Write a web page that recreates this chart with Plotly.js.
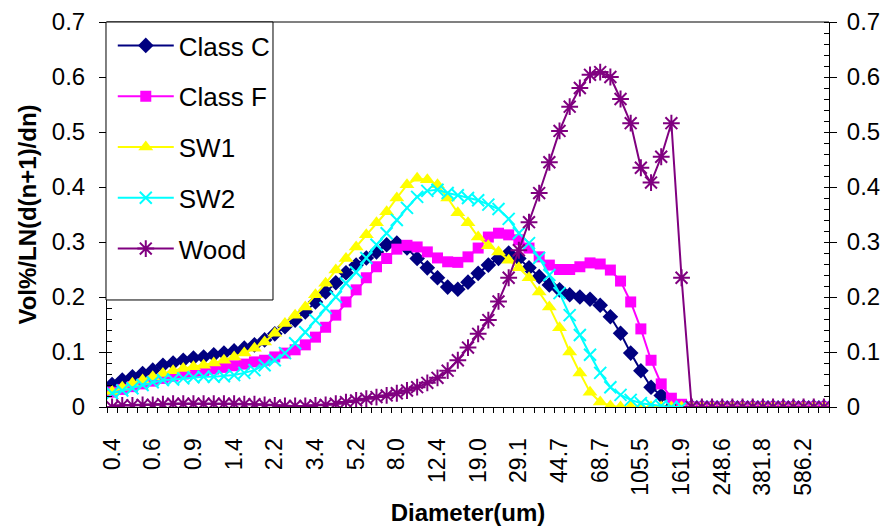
<!DOCTYPE html>
<html>
<head>
<meta charset="utf-8">
<script src="https://cdn.plot.ly/plotly-3.0.1.min.js"></script>
<style>
  html, body { margin: 0; padding: 0; background: #ffffff; }
  #chart { width: 885px; height: 529px; }
</style>
</head>
<body>
<div id="chart"></div>
<script>
// Particle size bins (um), one per category on the x axis
const diameters = [
  "0.4","0.4","0.5","0.6","0.6","0.7","0.8","0.8","0.9","1.0",
  "1.2","1.3","1.4","1.6","1.8","2.0","2.2","2.5","2.8","3.1",
  "3.4","3.8","4.2","4.7","5.2","5.8","6.5","7.2","8.0","9.0",
  "10.0","11.1","12.4","13.8","15.3","17.0","19.0","21.1","23.5","26.2",
  "29.1","32.4","36.1","40.2","44.7","49.8","55.4","61.7","68.7","76.5",
  "85.1","94.8","105.5","117.4","130.7","145.5","161.9","180.3","200.6","223.4",
  "248.6","276.8","308.1","343.0","381.8","425.0","473.1","526.6","586.2","652.5",
  "726.4"
];

// Vol%/LN(d(n+1)/dn) for each material
const classC = [
  0.041,0.049,0.055,0.061,0.067,0.076,0.080,0.085,0.089,0.091,
  0.095,0.098,0.102,0.107,0.113,0.122,0.133,0.146,0.158,0.173,
  0.191,0.209,0.226,0.244,0.258,0.271,0.282,0.295,0.298,0.289,
  0.270,0.253,0.235,0.218,0.214,0.227,0.243,0.258,0.270,0.280,
  0.270,0.253,0.237,0.222,0.213,0.204,0.200,0.196,0.185,0.164,
  0.134,0.098,0.066,0.036,0.021,0,0,0,0,0,
  0,0,0,0,0,0,0,0,0,0,
  0
];
const classF = [
  0.027,0.032,0.037,0.042,0.047,0.052,0.056,0.060,0.063,0.066,
  0.069,0.072,0.075,0.078,0.082,0.085,0.091,0.098,0.104,0.113,
  0.127,0.145,0.167,0.191,0.213,0.235,0.255,0.270,0.287,0.294,
  0.291,0.282,0.271,0.264,0.263,0.273,0.289,0.309,0.316,0.313,
  0.304,0.289,0.273,0.258,0.250,0.250,0.255,0.262,0.260,0.249,
  0.229,0.191,0.142,0.085,0.042,0.016,0.005,0,0,0,
  0,0,0,0,0,0,0,0,0,0,
  0
];
const sw1 = [
  0.028,0.036,0.043,0.049,0.055,0.061,0.066,0.070,0.073,0.076,
  0.080,0.085,0.091,0.098,0.107,0.118,0.134,0.152,0.167,0.182,
  0.204,0.225,0.249,0.270,0.291,0.313,0.335,0.355,0.380,0.404,
  0.416,0.413,0.404,0.380,0.353,0.335,0.309,0.293,0.282,0.267,
  0.253,0.235,0.209,0.182,0.144,0.100,0.062,0.027,0.009,0.002,
  0,0,0,0,0,0,0,0,0,0,
  0,0,0,0,0,0,0,0,0,0,
  0
];
const sw2 = [
  0.025,0.030,0.034,0.040,0.045,0.049,0.050,0.052,0.054,0.055,
  0.055,0.056,0.058,0.062,0.067,0.076,0.085,0.098,0.116,0.136,
  0.158,0.180,0.200,0.225,0.245,0.271,0.295,0.316,0.340,0.362,
  0.382,0.393,0.395,0.389,0.385,0.380,0.376,0.368,0.360,0.342,
  0.316,0.298,0.271,0.240,0.207,0.167,0.131,0.095,0.062,0.036,
  0.022,0.013,0.007,0.004,0.002,0,0,0,0,0,
  0,0,0,0,0,0,0,0,0,0,
  0
];
const wood = [
  0.000,0.003,0.003,0.004,0.004,0.005,0.006,0.006,0.006,0.006,
  0.006,0.006,0.006,0.005,0.005,0.004,0.003,0.002,0.002,0.002,
  0.003,0.004,0.006,0.009,0.012,0.015,0.018,0.021,0.025,0.030,
  0.036,0.044,0.053,0.066,0.085,0.108,0.133,0.158,0.192,0.235,
  0.285,0.336,0.389,0.445,0.502,0.546,0.580,0.604,0.609,0.600,
  0.560,0.516,0.435,0.408,0.455,0.516,0.235,0,0,0,
  0,0,0,0,0,0,0,0,0,0,
  0
];

const seriesNames = ["Class C", "Class F", "SW1", "SW2", "Wood"];
const seriesColors = ["#000080", "#FF00FF", "#FFFF00", "#00FFFF", "#800080"];

const FONT = "Arial, 'Liberation Sans', sans-serif";
const idx = diameters.map((_, i) => i);
const labelStep = 4;
const tickIdx = idx.filter(i => i % labelStep === 0);
const tickTxt = tickIdx.map(i => diameters[i]);

const markerStyles = [
  { symbol: "diamond", size: 12 },
  { symbol: "square", size: 11 },
  { symbol: "triangle-up", size: 13 },
  { symbol: "x-thin-open", size: 12, open: true },
  { symbol: "asterisk-open", size: 14, open: true }
];

const values = [classC, classF, sw1, sw2, wood];
const traces = values.map((vals, k) => {
  const ms = markerStyles[k];
  const marker = { color: seriesColors[k], symbol: ms.symbol, size: ms.size };
  if (ms.open) marker.line = { width: 2, color: seriesColors[k] };
  return {
    type: "scatter",
    mode: "lines+markers",
    name: seriesNames[k],
    legendgroup: "g" + k,
    x: idx,
    y: vals,
    line: { color: seriesColors[k], width: 2 },
    marker: marker,
    hoverinfo: "skip"
  };
});

// carries the secondary (right-hand) value axis
traces.push({
  type: "scatter",
  mode: "markers",
  x: idx,
  y: wood,
  yaxis: "y2",
  marker: { opacity: 0 },
  showlegend: false,
  hoverinfo: "skip"
});

const yAxisCommon = {
  range: [0, 0.7],
  tickmode: "linear",
  tick0: 0,
  dtick: 0.1,
  ticks: "outside",
  ticklen: 7,
  tickwidth: 1,
  tickcolor: "#000",
  showline: true,
  linecolor: "#000",
  linewidth: 1,
  showgrid: false,
  zeroline: false,
  tickfont: { family: FONT, size: 24, color: "#000" },
  minor: { tickmode: "linear", tick0: 0, dtick: 0.02, ticks: "inside", ticklen: 5, tickcolor: "#000", tickwidth: 1, showgrid: false }
};

// legend frame, in plot-fraction coordinates
const legendBox = { x0: -0.0014, x1: 0.2299, y0: 0.278, y1: 1 };

const layout = {
  width: 885,
  height: 529,
  margin: { l: 107, r: 56, t: 22, b: 122, pad: 0 },
  paper_bgcolor: "#ffffff",
  plot_bgcolor: "#ffffff",
  font: { family: FONT, color: "#000" },
  showlegend: true,
  xaxis: {
    range: [-0.5, diameters.length - 0.5],
    tickmode: "array",
    tickvals: tickIdx,
    ticktext: tickTxt,
    tickangle: -90,
    ticks: "",
    ticklabelstandoff: 21,
    showline: true,
    linecolor: "#000",
    linewidth: 1,
    showgrid: false,
    zeroline: false,
    tickfont: { family: FONT, size: 23, color: "#000" },
    minor: { tickmode: "linear", tick0: -0.5, dtick: 1, ticks: "outside", ticklen: 5, tickcolor: "#000", tickwidth: 1, showgrid: false },
    title: { text: "Diameter(um)", font: { family: FONT, size: 24, weight: "bold", color: "#000" }, standoff: 9 }
  },
  yaxis: Object.assign({}, yAxisCommon, {
    side: "left",
    ticklabelstandoff: 9,
    title: { text: "Vol%/LN(d(n+1)/dn)", font: { family: FONT, size: 24, weight: "bold", color: "#000" }, standoff: 8 }
  }),
  yaxis2: Object.assign({}, yAxisCommon, {
    overlaying: "y",
    side: "right",
    ticklabelstandoff: 5
  }),
  legend: {
    x: 0.008,
    xanchor: "left",
    y: 1,
    yanchor: "top",
    bgcolor: "rgba(0,0,0,0)",
    borderwidth: 0,
    font: { family: FONT, size: 26, color: "#000" },
    itemwidth: 56,
    tracegroupgap: 14,
    traceorder: "grouped"
  },
  shapes: [
    {
      type: "line", xref: "paper", yref: "paper",
      x0: 0, x1: 1, y0: 1, y1: 1,
      line: { color: "#808080", width: 2 },
      layer: "below"
    },
    {
      type: "rect", xref: "paper", yref: "paper",
      x0: legendBox.x0, x1: legendBox.x1, y0: legendBox.y0, y1: legendBox.y1,
      fillcolor: "#ffffff",
      line: { color: "#000", width: 1 },
      layer: "above"
    }
  ]
};

Plotly.newPlot("chart", traces, layout, { staticPlot: true, displayModeBar: false });
</script>
</body>
</html>
